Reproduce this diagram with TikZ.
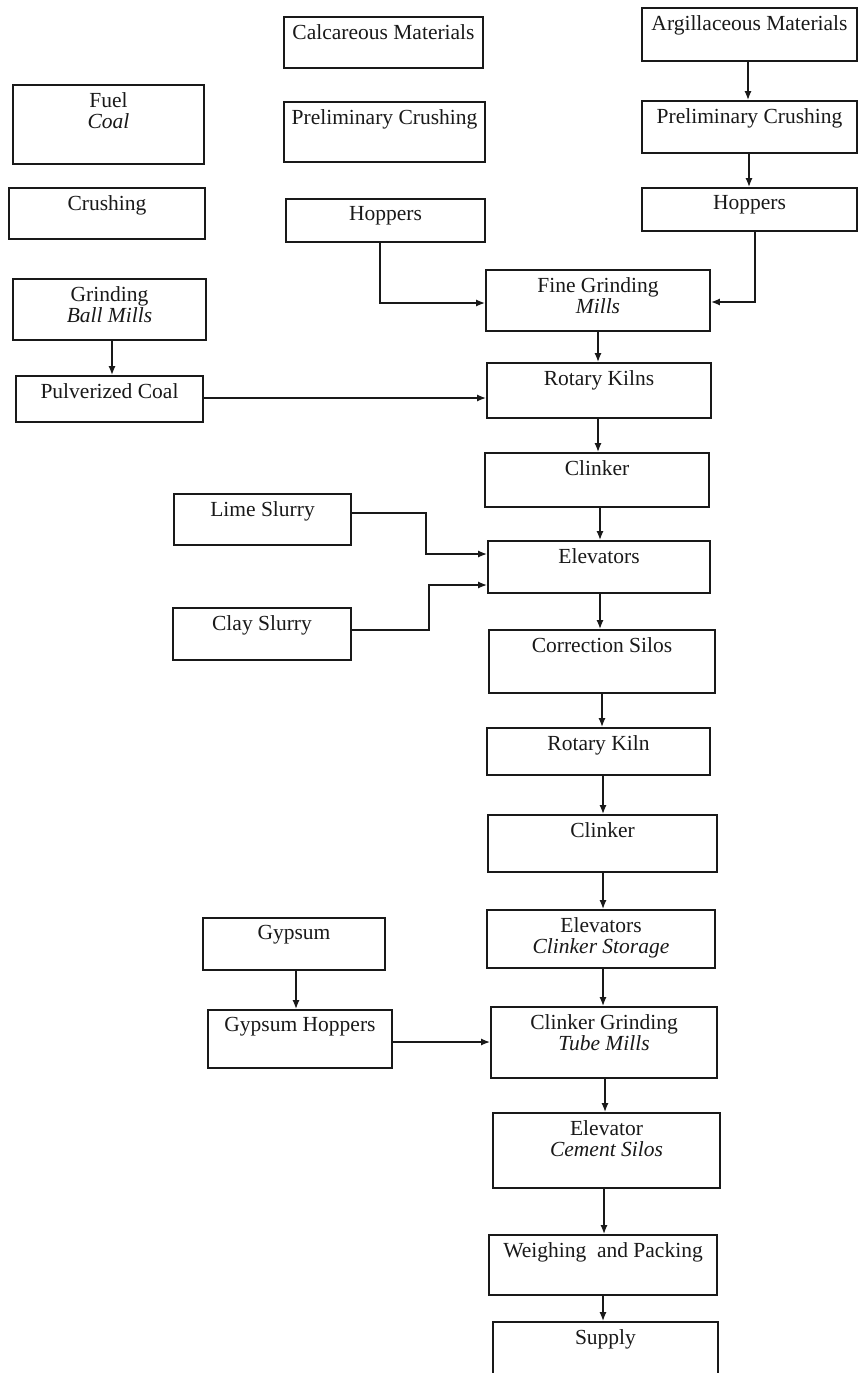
\documentclass[tikz,border=0pt]{standalone}
\usepackage{fontspec}
\setmainfont{Liberation Serif}
\usetikzlibrary{arrows.meta,fit,calc}
\definecolor{ink}{RGB}{25,25,25}
\newcommand\flowbox[6]{%
  \node[box,fit={(#2,#3) (#4,#5)}] (#1) {};
  \node[txt] (#1-t) at ([yshift=-8pt]#1.north) {#6};}
\begin{document}
\begin{tikzpicture}[x=1pt,y=-1pt,
  box/.style={draw=ink,line width=1.8pt,inner sep=0pt,rectangle},
  txt/.style={anchor=north,inner sep=0pt,align=center,text=ink,font=\fontsize{21.5}{21.5}\selectfont},
  arr/.style={draw=ink,line width=1.5pt,-{Latex[length=9pt,width=7pt]}}]
\clip (0,0) rectangle (860,1373);
\fill[white] (0,0) rectangle (860,1373);

% left column (fuel)
\flowbox{fuel}{13}{85}{204}{164}{Fuel\\\textit{Coal}}
\flowbox{crush}{9}{188}{205}{239}{Crushing}
\flowbox{grind}{13}{279}{206}{340}{Grinding\\\textit{Ball Mills}}
\flowbox{pulv}{16}{376}{203}{422}{Pulverized Coal}

% calcareous column
\flowbox{calc}{284}{17}{483}{68}{Calcareous Materials}
\flowbox{pcA}{284}{102}{485}{162}{Preliminary Crushing}
\flowbox{hopA}{286}{199}{485}{242}{Hoppers}

% argillaceous column
\flowbox{arg}{642}{8}{857}{61}{Argillaceous Materials}
\flowbox{pcB}{642}{101}{857}{153}{Preliminary Crushing}
\flowbox{hopB}{642}{188}{857}{231}{Hoppers}

% main column
\flowbox{fine}{486}{270}{710}{331}{Fine Grinding\\\textit{Mills}}
\flowbox{kilns}{487}{363}{711}{418}{Rotary Kilns}
\flowbox{clkA}{485}{453}{709}{507}{Clinker}
\flowbox{elev}{488}{541}{710}{593}{Elevators}
\flowbox{corr}{489}{630}{715}{693}{Correction Silos}
\flowbox{rk}{487}{728}{710}{775}{Rotary Kiln}
\flowbox{clkB}{488}{815}{717}{872}{Clinker}
\flowbox{elcs}{487}{910}{715}{968}{Elevators\\\textit{Clinker Storage}}
\flowbox{ctg}{491}{1007}{717}{1078}{Clinker Grinding\\\textit{Tube Mills}}
\flowbox{elcem}{493}{1113}{720}{1188}{Elevator\\\textit{Cement Silos}}
\flowbox{wp}{489}{1235}{717}{1295}{Weighing\ \ and Packing}
\flowbox{sup}{493}{1322}{718}{1400}{Supply}

% slurries and gypsum
\flowbox{lime}{174}{494}{351}{545}{Lime Slurry}
\flowbox{clay}{173}{608}{351}{660}{Clay Slurry}
\flowbox{gyp}{203}{918}{385}{970}{Gypsum}
\flowbox{gh}{208}{1010}{392}{1068}{Gypsum Hoppers}

% connectors
\draw[arr] (grind.south -| 112,0) -- (pulv.north -| 112,0);
\draw[arr] (arg.south -| 748,0) -- (pcB.north -| 748,0);
\draw[arr] (pcB.south -| 749,0) -- (hopB.north -| 749,0);
\draw[arr] (hopA.south -| 380,0) |- (fine.west |- 0,303);
\draw[arr] (hopB.south -| 755,0) |- (fine.east |- 0,302);
\draw[arr] (fine.south -| 598,0) -- (kilns.north -| 598,0);
\draw[arr] (pulv.east |- 0,398) -- (kilns.west |- 0,398);
\draw[arr] (kilns.south -| 598,0) -- (clkA.north -| 598,0);
\draw[arr] (clkA.south -| 600,0) -- (elev.north -| 600,0);
\draw[arr] (lime.east |- 0,513) -- (426,513) -- (426,554) -- (elev.west |- 0,554);
\draw[arr] (clay.east |- 0,630) -- (429,630) -- (429,585) -- (elev.west |- 0,585);
\draw[arr] (elev.south -| 600,0) -- (corr.north -| 600,0);
\draw[arr] (corr.south -| 602,0) -- (rk.north -| 602,0);
\draw[arr] (rk.south -| 603,0) -- (clkB.north -| 603,0);
\draw[arr] (clkB.south -| 603,0) -- (elcs.north -| 603,0);
\draw[arr] (elcs.south -| 603,0) -- (ctg.north -| 603,0);
\draw[arr] (gyp.south -| 296,0) -- (gh.north -| 296,0);
\draw[arr] (gh.east |- 0,1042) -- (ctg.west |- 0,1042);
\draw[arr] (ctg.south -| 605,0) -- (elcem.north -| 605,0);
\draw[arr] (elcem.south -| 604,0) -- (wp.north -| 604,0);
\draw[arr] (wp.south -| 603,0) -- (sup.north -| 603,0);
\end{tikzpicture}
\end{document}
